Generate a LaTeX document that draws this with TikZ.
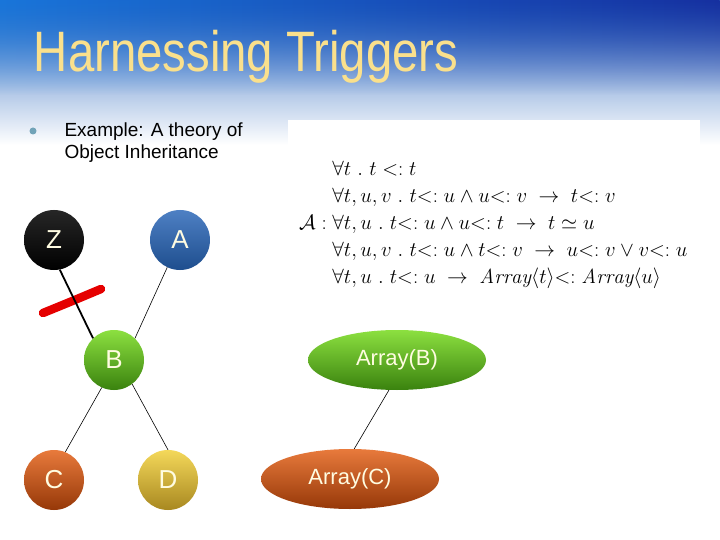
\documentclass[tikz,border=0pt]{standalone}
\usepackage{amsmath,amssymb}
\usepackage{fontspec}
\usepackage{xcolor}
\usepackage{tikz}
\usetikzlibrary{shapes.geometric,fadings}
\newfontfamily\arial{Liberation Sans}
\definecolor{hdrleft}{RGB}{25,118,218}
\definecolor{hdrmid}{RGB}{18,72,145}
\definecolor{hdrright}{RGB}{22,48,160}
\definecolor{hdrtop}{RGB}{45,105,190}
\definecolor{hdrlow}{RGB}{150,165,205}
\definecolor{titlegold}{RGB}{250,224,140}
\definecolor{nodetext}{RGB}{255,252,225}
\definecolor{greentop}{RGB}{140,224,64}
\definecolor{greenbot}{RGB}{58,130,14}
\definecolor{orangetop}{RGB}{232,122,60}
\definecolor{orangebot}{RGB}{150,56,8}
\definecolor{yellowtop}{RGB}{244,216,90}
\definecolor{yellowbot}{RGB}{168,136,32}
\definecolor{bluetop}{RGB}{78,128,196}
\definecolor{bluebot}{RGB}{30,78,142}

\begin{document}
\begin{tikzpicture}[x=1pt,y=-1pt,
  ball/.style={circle,minimum size=60pt,inner sep=0pt,text=nodetext,
    font=\arial\fontsize{26}{26}\selectfont},
  oval/.style={ellipse,minimum width=178pt,minimum height=60pt,inner sep=0pt,
    text=nodetext,font=\arial\fontsize{22}{22}\selectfont},
  blackball/.style={ball,top color=black!85,bottom color=black},
  blueball/.style={ball,top color=bluetop,bottom color=bluebot},
  greenball/.style={ball,top color=greentop,bottom color=greenbot},
  orangeball/.style={ball,top color=orangetop,bottom color=orangebot},
  yellowball/.style={ball,top color=yellowtop,bottom color=yellowbot},
  title/.style={anchor=base west,font=\arial\fontsize{57}{57}\selectfont,
    xscale=0.83,transform shape},
  bodytext/.style={anchor=base west,font=\arial\fontsize{19}{19}\selectfont},
  link/.style={draw=black,line width=0.6pt},
  cutlink/.style={draw=black,line width=1.8pt},
  redmark/.style={draw=red!90!black,line width=8.5pt,line cap=round}
]
\useasboundingbox (0,0) rectangle (720,540);
\fill[white] (0,0) rectangle (720,540);
\shade[top color=hdrtop,middle color=hdrlow,bottom color=white] (0,0) rectangle (720,145);
\shade[left color=hdrleft,middle color=hdrmid,right color=hdrright,path fading=south]
  (0,0) rectangle (720,95);
\fill[white] (288,120) rectangle (700,300);

\node[title,text=titlegold] (ttl) at (31,72) {Harnessing Triggers};

\node[circle,inner sep=0pt,minimum size=7pt,fill=cyan!40!gray] (bul) at (33,131) {};
\node[bodytext] (ex1) at (61,137) {Example: A theory of};
\node[bodytext] (ex2) at (61,159) {Object Inheritance};

\node[anchor=west,inner sep=0pt,font=\fontsize{20.5}{27}\selectfont] (axioms) at (299,224)
  {$\mathcal{A}:
   \begin{array}{@{}l@{}}
   \forall t\ .\ t <: t\\
   \forall t,u,v\ .\ t{<:}\;u\wedge u{<:}\;v\;\rightarrow\; t{<:}\;v\\
   \forall t,u\ .\ t{<:}\;u\wedge u{<:}\;t\;\rightarrow\; t\simeq u\\
   \forall t,u,v\ .\ t{<:}\;u\wedge t{<:}\;v\;\rightarrow\; u{<:}\;v\vee v{<:}\;u\\
   \forall t,u\ .\ t{<:}\;u\;\rightarrow\; \mathit{Array}\langle t\rangle{<:}\;\mathit{Array}\langle u\rangle
   \end{array}$};

\node[blackball] (z) at (54,240) {Z};
\node[blueball] (a) at (180,240) {A};
\node[greenball] (b) at (114,360) {B};
\node[orangeball] (c) at (54,480) {C};
\node[yellowball] (d) at (168,480) {D};
\node[oval,top color=greentop,bottom color=greenbot] (arrb) at (397,360) {Array(B)};
\node[oval,top color=orangetop,bottom color=orangebot] (arrc) at (350,479) {Array(C)};

\draw[redmark] (43,313) .. controls (70,302) .. (101,289);
\draw[cutlink] (z.281) -- (b.134);
\draw[link] (a.245) -- (b.46);
\draw[link] (b.246) -- (c.68);
\draw[link] (b.307) -- (d.90);
\draw[link] (arrb.255) -- (arrc.82);
\end{tikzpicture}
\end{document}
